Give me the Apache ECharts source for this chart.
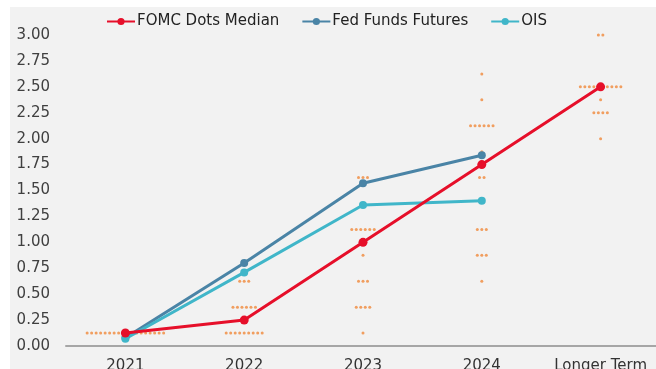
<!DOCTYPE html>
<html>
<head>
<meta charset="utf-8">
<script src="https://cdn.jsdelivr.net/npm/echarts@6/dist/echarts.min.js"></script>
<style>
  html, body { margin: 0; padding: 0; background: #fff; }
  #chart { width: 656px; height: 369px; }
</style>
</head>
<body>
<div id="chart"></div>
<script>
const categories = ['2021', '2022', '2023', '2024', 'Longer Term'];

const fomcMedian = [0.125, 0.25, 1.0, 1.75, 2.5];
const fedFundsFutures = [0.08, 0.8, 1.57, 1.84, null];
const ois = [0.07, 0.71, 1.36, 1.4, null];

// dot plot: [rate level, number of participants] per category
const dots2021 = [[0.125, 18]];
const dots2022 = [[0.125, 9], [0.375, 6], [0.625, 3]];
const dots2023 = [[0.125, 1], [0.375, 4], [0.625, 3], [0.875, 1], [1.125, 6], [1.625, 3]];
const dots2024 = [[0.625, 1], [0.875, 3], [1.125, 3], [1.625, 2], [1.875, 1], [2.125, 6], [2.375, 1], [2.625, 1]];
const dotsLonger = [[2.0, 1], [2.25, 4], [2.375, 1], [2.5, 10], [3.0, 2]];

const dotGroups = [dots2021, dots2022, dots2023, dots2024, dotsLonger];
const DOT_SPACING = 4.5;

const dotData = [];
dotGroups.forEach((group, ci) => {
  group.forEach(([level, count]) => {
    for (let i = 0; i < count; i++) {
      dotData.push({
        value: [ci, level],
        symbolOffset: [(i - (count - 1) / 2) * DOT_SPACING, 0],
      });
    }
  });
});

const chart = echarts.init(document.getElementById('chart'));

const font = '"DejaVu Sans", sans-serif';

chart.setOption({
  animation: false,
  backgroundColor: '#ffffff',
  graphic: [{
    type: 'rect',
    z: -10,
    shape: { x: 10, y: 7, width: 660, height: 370 },
    style: { fill: '#f2f2f2' },
  }],
  legend: {
    top: 9,
    left: 101,
    itemWidth: 28,
    itemHeight: 9,
    itemGap: 22,
    textStyle: { fontFamily: font, fontSize: 15, color: '#222', padding: [0, 0, 0, -3] },
    data: ['FOMC Dots Median', 'Fed Funds Futures', 'OIS'],
  },
  grid: { left: 66, right: -4, top: 35, bottom: 23, outerBoundsMode: 'none', containLabel: false },
  xAxis: {
    type: 'category',
    data: categories,
    axisTick: { show: false },
    axisLine: { lineStyle: { color: '#a6a6a6', width: 2 } },
    axisLabel: { fontFamily: font, fontSize: 15, color: '#333', margin: 13, interval: 0 },
  },
  yAxis: {
    type: 'value',
    min: 0,
    max: 3,
    interval: 0.25,
    axisLine: { show: false },
    axisTick: { show: false },
    splitLine: { show: false },
    axisLabel: {
      fontFamily: font, fontSize: 15, color: '#404040', margin: 16,
      formatter: v => v.toFixed(2),
    },
  },
  series: [
    {
      name: 'dots',
      type: 'scatter',
      data: dotData,
      symbol: 'circle',
      symbolSize: 3,
      itemStyle: { color: '#f0883a' },
      z: 1,
      silent: true,
    },
    {
      name: 'FOMC Dots Median',
      type: 'line',
      data: fomcMedian,
      symbol: 'circle',
      symbolSize: 9,
      lineStyle: { width: 3, color: '#e60f2a' },
      itemStyle: { color: '#e60f2a' },
      z: 4,
    },
    {
      name: 'Fed Funds Futures',
      type: 'line',
      data: fedFundsFutures,
      symbol: 'circle',
      symbolSize: 8,
      lineStyle: { width: 3, color: '#4a84a6' },
      itemStyle: { color: '#4a84a6' },
      z: 3,
    },
    {
      name: 'OIS',
      type: 'line',
      data: ois,
      symbol: 'circle',
      symbolSize: 8,
      lineStyle: { width: 3, color: '#40b6c9' },
      itemStyle: { color: '#40b6c9' },
      z: 3,
    },
  ],
});
</script>
</body>
</html>
